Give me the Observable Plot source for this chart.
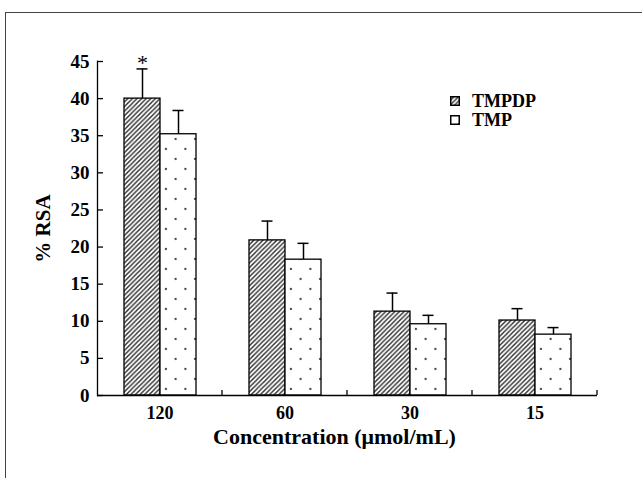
<!DOCTYPE html>
<html><head><meta charset="utf-8">
<script src="https://cdn.jsdelivr.net/npm/d3@7"></script>
<script src="https://cdn.jsdelivr.net/npm/@observablehq/plot@0.6"></script>
<style>
body{margin:0;background:#fff;}
#wrap{position:relative;width:642px;height:478px;overflow:hidden;font-family:"Liberation Serif","Times New Roman",serif;background:#fff;}
#frame{position:absolute;left:5px;top:12px;width:700px;height:600px;border-left:1.3px solid #444;border-top:1.3px solid #444;}
#chart{position:absolute;left:0;top:0;}
#legend{position:absolute;left:450px;top:92px;font-weight:bold;font-size:18px;line-height:18.5px;color:#000;}
#legend div{display:flex;align-items:center;height:18.5px;}
#legend svg{margin-right:12px;}
</style></head>
<body>
<div id="wrap">
<div id="frame"></div>
<svg width="0" height="0" style="position:absolute">
  <defs>
    <pattern id="hatch" patternUnits="userSpaceOnUse" width="4.6" height="4.6">
      <rect width="4.6" height="4.6" fill="#fff"/>
      <path d="M-1,1 l2,-2 M0,4.6 l4.6,-4.6 M3.6,5.6 l2,-2" stroke="#2a2a2a" stroke-width="1.4"/>
    </pattern>
    <pattern id="dots" patternUnits="userSpaceOnUse" width="19.5" height="20" x="4" y="4">
      <rect width="19.5" height="20" fill="#fff"/>
      <circle cx="4.9" cy="5" r="1.15" fill="#444"/>
      <circle cx="14.6" cy="15" r="1.15" fill="#444"/>
    </pattern>
  </defs>
</svg>
<div id="chart"></div>
<div id="legend"></div>
</div>
<script>
const concentrations = ["120", "60", "30", "15"];
const series = ["TMPDP", "TMP"];
const tmpdpValues = [40.0, 20.9, 11.3, 10.1];
const tmpdpErrors = [4.0, 2.6, 2.5, 1.6];
const tmpValues = [35.2, 18.3, 9.6, 8.2];
const tmpErrors = [3.2, 2.2, 1.2, 0.95];
const yTicks = [0, 5, 10, 15, 20, 25, 30, 35, 40, 45];
const significance = [{conc: "120", series: "TMPDP", mark: "*"}];

const rows = [];
concentrations.forEach((c, i) => {
  rows.push({conc: c, series: "TMPDP", value: tmpdpValues[i], err: tmpdpErrors[i]});
  rows.push({conc: c, series: "TMP", value: tmpValues[i], err: tmpErrors[i]});
});
const stars = significance.map(s => {
  const r = rows.find(d => d.conc === s.conc && d.series === s.series);
  return {...s, top: r.value + r.err};
});
const fills = {TMPDP: "url(#hatch)", TMP: "url(#dots)"};

// inward ticks on the x axis at the right edge of each concentration group
function groupTicks(index, scales) {
  const r = Math.max(...scales.x.range());
  const y0 = scales.y(0);
  const g = d3.create("svg:g");
  g.append("line").attr("x1", r).attr("x2", r).attr("y1", y0).attr("y2", y0 - 5)
    .attr("stroke", "#000").attr("stroke-width", 1.3);
  return g.node();
}

const chart = Plot.plot({
  width: 642,
  height: 478,
  marginLeft: 96,
  marginRight: 44,
  marginTop: 61,
  marginBottom: 83,
  style: {fontFamily: "'Liberation Serif','Times New Roman',serif", fontWeight: "bold", fontSize: "18px", background: "transparent", color: "#000"},
  fx: {domain: concentrations, paddingInner: 0, paddingOuter: 0},
  x: {domain: series, paddingInner: 0, paddingOuter: 0.72, axis: null},
  y: {domain: [0, 45]},
  marks: [
    ...series.map(s => Plot.barY(rows.filter(d => d.series === s), {
      fx: "conc", x: "series", y: "value", fill: fills[s], stroke: "#000", strokeWidth: 1.3
    })),
    Plot.ruleX(rows, {fx: "conc", x: "series", y1: "value", y2: d => d.value + d.err, stroke: "#000", strokeWidth: 1.5}),
    Plot.tickY(rows, {fx: "conc", x: "series", y: d => d.value + d.err, stroke: "#000", strokeWidth: 1.5, insetLeft: 12.5, insetRight: 12.5}),
    Plot.text(stars, {fx: "conc", x: "series", y: "top", text: "mark", fontWeight: "normal", fontSize: 22, lineAnchor: "top", dy: -15}),
    Plot.ruleY([0], {stroke: "#000", strokeWidth: 1.5}),
    Plot.frame({anchor: "left", facetAnchor: "left", stroke: "#000", strokeWidth: 1.3}),
    groupTicks,
    Plot.axisY({ticks: yTicks, tickSize: -6, tickPadding: 14, tickFormat: d => String(d), fontSize: 19, label: "% RSA", labelArrow: "none", labelAnchor: "center", labelOffset: 62, stroke: "#000", strokeWidth: 1.3}),
    Plot.axisFx({anchor: "bottom", tickSize: 0, tickPadding: 11, label: "Concentration (μmol/mL)", labelArrow: "none", labelAnchor: "center", labelOffset: 48})
  ]
});
document.getElementById("chart").appendChild(chart);
d3.select(chart).selectAll('[aria-label="y-axis label"]').attr("font-size", 21);
d3.select(chart).selectAll('[aria-label="fx-axis label"]').attr("font-size", 22)
  .attr("transform", function() { return (this.getAttribute("transform") || "") + " translate(-13,0)"; });

// legend
const legend = d3.select("#legend");
series.forEach(s => {
  const row = legend.append("div");
  const sw = row.append("svg").attr("width", 10).attr("height", 10);
  sw.append("rect").attr("x", 0.75).attr("y", 0.75).attr("width", 8.5).attr("height", 8.5)
    .attr("fill", fills[s]).attr("stroke", "#000").attr("stroke-width", 1.5);
  row.append("span").text(s);
});
</script>
</body></html>
